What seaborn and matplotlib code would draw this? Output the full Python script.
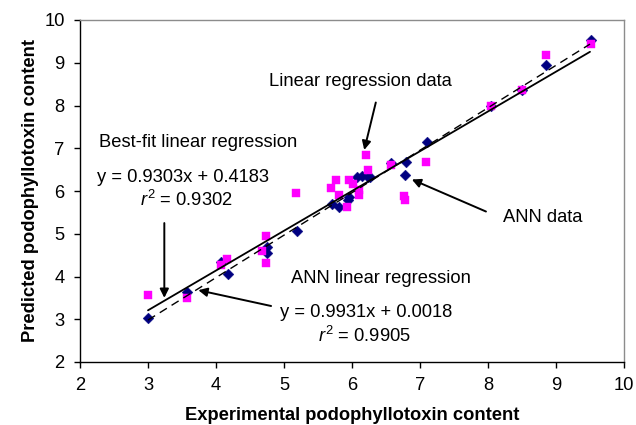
import matplotlib
matplotlib.use("Agg")
import matplotlib.pyplot as plt
import seaborn as sns
import numpy as np
import pandas as pd

# ---- data ----
ann_x = [3.00, 3.58, 4.08, 4.17, 4.75, 4.75, 5.19, 5.70, 5.81, 5.94, 5.96,
         6.07, 6.14, 6.24, 6.26, 6.58, 6.80, 6.78, 7.10, 8.04, 8.50, 8.86, 9.52]
ann_y = [3.03, 3.64, 4.33, 4.06, 4.55, 4.68, 5.07, 5.69, 5.63, 5.79, 5.87,
         6.33, 6.35, 6.33, 6.32, 6.66, 6.69, 6.37, 7.15, 7.99, 8.36, 8.95, 9.53]

lr_x = [3.00, 3.57, 4.08, 4.16, 4.67, 4.74, 4.74, 5.18, 5.69, 5.76, 5.81, 5.93, 5.95,
        6.02, 6.11, 6.11, 6.21, 6.23, 6.58, 6.76, 6.78, 7.09, 8.04, 8.50, 8.85, 9.52]
lr_y = [3.57, 3.50, 4.27, 4.40, 4.60, 4.95, 4.31, 5.95, 6.08, 6.26, 5.91, 5.63, 6.26,
        6.16, 6.02, 5.91, 6.84, 6.49, 6.61, 5.88, 5.79, 6.67, 7.99, 8.36, 9.18, 9.45]

fit_names = ["Best-fit linear regression", "ANN linear regression"]
fit_slope = [0.9303, 0.9931]
fit_intercept = [0.4183, 0.0018]
fit_r2 = [0.9302, 0.9905]
fit_range = [3.0, 9.5]

x_ticks = [2, 3, 4, 5, 6, 7, 8, 9, 10]
y_ticks = [2, 3, 4, 5, 6, 7, 8, 9, 10]

# ---- style ----
sns.set_theme(style="white")
plt.rcParams["font.family"] = ["Liberation Sans", "DejaVu Sans"]
plt.rcParams["mathtext.fontset"] = "custom"
plt.rcParams["mathtext.rm"] = "Liberation Sans"
plt.rcParams["mathtext.it"] = "Liberation Sans:italic"
plt.rcParams["text.color"] = "black"
plt.rcParams["axes.labelcolor"] = "black"
plt.rcParams["xtick.color"] = "black"
plt.rcParams["ytick.color"] = "black"

FS = 13.2
fig = plt.figure(figsize=(6.36, 4.25), dpi=100)
ax = fig.add_axes([80/636, 1 - 362/425, (624-80)/636, (362-20)/425])

ann_df = pd.DataFrame({"x": ann_x, "y": ann_y})
lr_df = pd.DataFrame({"x": lr_x, "y": lr_y})

sns.scatterplot(data=ann_df, x="x", y="y", marker="D", s=30, color="#000080",
                edgecolor="#000080", linewidth=0.3, ax=ax, zorder=3)
sns.scatterplot(data=lr_df, x="x", y="y", marker="s", s=40, color="#FF00FF",
                edgecolor="#FF00FF", linewidth=0.3, ax=ax, zorder=4)

fx = np.array(fit_range)
styles = [dict(color="black", linewidth=1.3, linestyle="-"),
          dict(color="black", linewidth=1.0, linestyle=(0, (6, 4)))]
for m, b, st in zip(fit_slope, fit_intercept, styles):
    sns.lineplot(x=fx, y=m * fx + b, ax=ax, zorder=5, **st)

ax.set_xlim(2, 10)
ax.set_ylim(2, 10)
ax.set_xticks(x_ticks)
ax.set_yticks(y_ticks)
ax.set_xticklabels([str(t) for t in x_ticks])
ax.set_yticklabels([str(t) for t in y_ticks])
ax.tick_params(axis="both", direction="out", length=4, width=1, color="black",
               labelcolor="black", labelsize=FS, pad=7, bottom=True, left=True)
for side in ["left", "bottom"]:
    ax.spines[side].set_color("black")
    ax.spines[side].set_linewidth(1.0)
for side in ["top", "right"]:
    ax.spines[side].set_color("#8c8c8c")
    ax.spines[side].set_linewidth(1.0)

ax.set_xlabel("Experimental podophyllotoxin content", fontsize=FS, fontweight="bold",
              labelpad=9, color="black")
ax.set_ylabel("Predicted podophyllotoxin content", fontsize=FS, fontweight="bold",
              labelpad=4, color="black")

# ---- annotations ----
ap = dict(arrowstyle="-|>", color="black", lw=1.4, mutation_scale=13, shrinkA=0, shrinkB=0)

ax.text(6.13, 8.46, "Linear regression data", fontsize=FS, ha="center", va="baseline")
ax.annotate("", xy=(6.18, 6.96), xytext=(6.35, 8.07), arrowprops=ap)

ax.text(2.28, 7.03, fit_names[0], fontsize=FS, ha="left", va="baseline")
ax.text(2.25, 6.22, f"y = {fit_slope[0]:.4f}x + {fit_intercept[0]:.4f}", fontsize=FS, ha="left", va="baseline")
ax.text(2.88, 5.65, f"$r^2$ = {fit_r2[0]:.4f}", fontsize=FS, ha="left", va="baseline")
ax.annotate("", xy=(3.24, 3.50), xytext=(3.24, 5.25), arrowprops=ap)

ax.text(8.22, 5.28, "ANN data", fontsize=FS, ha="left", va="baseline")
ax.annotate("", xy=(6.88, 6.27), xytext=(7.97, 5.52), arrowprops=ap)

ax.text(5.11, 3.84, fit_names[1], fontsize=FS, ha="left", va="baseline")
ax.text(4.94, 3.06, f"y = {fit_slope[1]:.4f}x + {fit_intercept[1]:.4f}", fontsize=FS, ha="left", va="baseline")
ax.text(5.50, 2.47, f"$r^2$ = {fit_r2[1]:.4f}", fontsize=FS, ha="left", va="baseline")
ax.annotate("", xy=(3.74, 3.68), xytext=(4.81, 3.31), arrowprops=ap)

fig.savefig("out.png", dpi=100)
